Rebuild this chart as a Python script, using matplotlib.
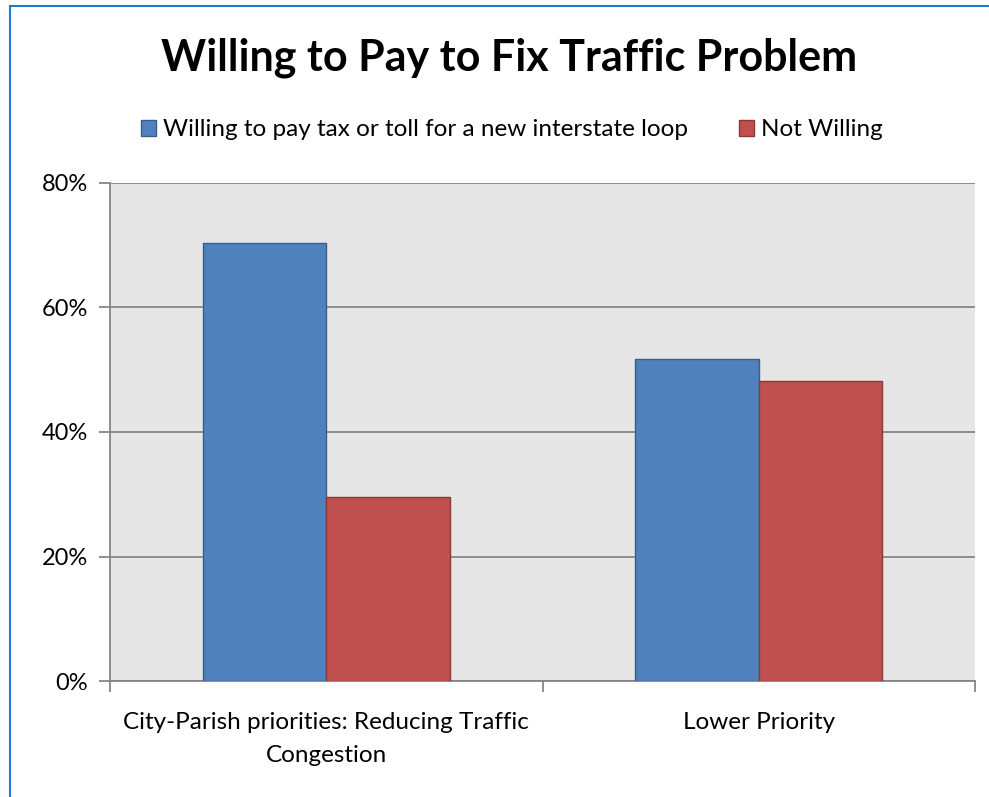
import matplotlib.pyplot as plt
import numpy as np
from matplotlib.patches import Rectangle

plt.rcParams['font.family'] = ['Lato', 'DejaVu Sans']

# data
categories = ['City-Parish priorities: Reducing Traffic\nCongestion', 'Lower Priority']
willing = [70.4, 51.8]
not_willing = [29.6, 48.2]
series_names = ['Willing to pay tax or toll for a new interstate loop', 'Not Willing']
yticks = [0, 20, 40, 60, 80]

fig = plt.figure(figsize=(9.89, 7.97), dpi=100)
ax = fig.add_axes([110 / 989, 1 - 681 / 797, 865 / 989, 498 / 797])

# blue frame round the chart (only left/top visible in the reference)
fig.patches.append(Rectangle((10 / 989, -0.1), 1.2, 1 - 6 / 797 + 0.1,
                             transform=fig.transFigure, fill=False,
                             edgecolor='#1F77D0', linewidth=1.5))

x = np.arange(len(categories))
w = 0.286
ax.bar(x - w / 2, willing, w, color='#4F81BD', edgecolor='#385D8A', linewidth=1,
       label=series_names[0], zorder=3)
ax.bar(x + w / 2, not_willing, w, color='#C0504D', edgecolor='#8C3836', linewidth=1,
       label=series_names[1], zorder=3)

ax.set_facecolor('#E6E6E6')
ax.set_xlim(-0.5, 1.5)
ax.set_ylim(0, 80)
ax.set_yticks(yticks)
ax.set_yticklabels([f'{t}%' for t in yticks], fontsize=17)
ax.yaxis.grid(True, color='#868686', linewidth=1.3, zorder=0)
ax.set_axisbelow(True)

ax.set_xticks([-0.5, 0.5, 1.5])
ax.set_xticklabels([])
ax.tick_params(axis='x', length=8, width=1.3, color='#868686', direction='out')
ax.tick_params(axis='y', length=8, width=1.3, color='#868686', direction='out', pad=8)
for i, c in enumerate(categories):
    ax.text(x[i], -4.9, c, ha='center', va='top', fontsize=17.5, linespacing=1.75)

for s in ['top', 'right']:
    ax.spines[s].set_visible(False)
for s in ['left', 'bottom']:
    ax.spines[s].set_color('#868686')
    ax.spines[s].set_linewidth(1.3)

fig.text(509 / 989, 1 - 58 / 797, 'Willing to Pay to Fix Traffic Problem',
         ha='center', va='center', fontsize=31, fontweight='bold')
fig.legend(loc='center', bbox_to_anchor=(512 / 989, 1 - 130 / 797), ncol=2,
           frameon=False, fontsize=17.5, handlelength=0.6, handleheight=0.6,
           handletextpad=0.3, columnspacing=2.1)

fig.savefig('out.png', dpi=100)
